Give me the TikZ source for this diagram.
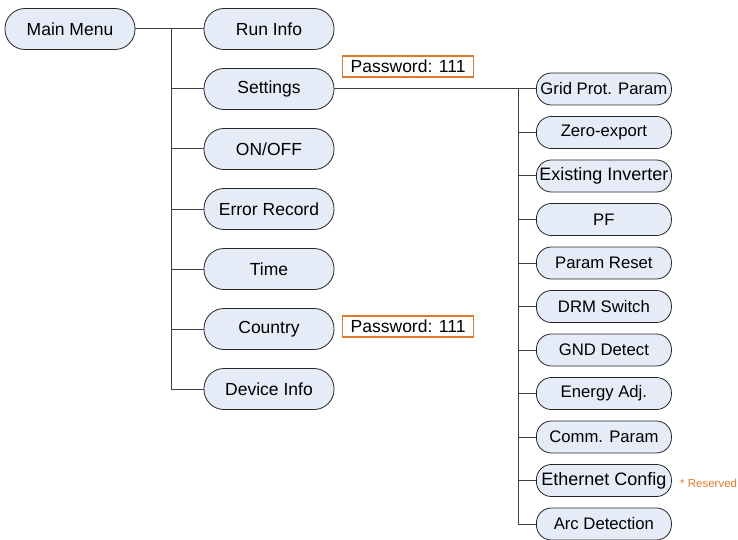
\documentclass[tikz,border=0pt]{standalone}
\usepackage{fontspec}
\setmainfont{Liberation Sans}
\definecolor{nodefill}{HTML}{E6ECF7}
\definecolor{linegray}{HTML}{404040}
\definecolor{pworange}{HTML}{E07A2A}
\tikzset{
  menubox/.style={rectangle, rounded corners=20pt, draw=black!85, fill=nodefill, line width=0.8pt,
    minimum width=130pt, minimum height=41pt, inner xsep=6pt, font=\fontsize{17.5}{19}\selectfont},
  subbox/.style={rectangle, rounded corners=15pt, draw=black!85, fill=nodefill, line width=0.8pt,
    minimum width=135pt, minimum height=32pt, inner xsep=3pt, anchor=west, font=\fontsize{16.7}{19}\selectfont},
  bigtext/.style={font=\fontsize{18}{20}\selectfont},
  pwbox/.style={draw=pworange, line width=1.2pt, minimum width=131pt, minimum height=21pt,
    inner sep=2pt, anchor=west, font=\fontsize{17.5}{19}\selectfont},
  conn/.style={draw=linegray, line width=1pt}
}
\begin{document}
\begin{tikzpicture}[x=1pt,y=-1pt]
\useasboundingbox (0,0) rectangle (738,540);
\node[menubox] (main) at (70,29) {Main Menu};
\node[menubox] (run) at (269,29) {Run Info};
\node[menubox] (set) at (269,89) {Settings};
\node[menubox] (onoff) at (269,149) {ON/OFF};
\node[menubox] (err) at (269,209) {Error Record};
\node[menubox] (time) at (269,269) {Time};
\node[menubox] (ctry) at (269,329) {Country};
\node[menubox] (dev) at (269,389) {Device Info};
\node[pwbox] (pw1) at (342,66.5) {Password: 111};
\node[pwbox] (pw2) at (342,326.5) {Password: 111};
\node[subbox] (grid) at (536,89) {Grid Prot. Param};
\node[subbox] (zero) at (536,132.5) {Zero-export};
\node[subbox, bigtext] (exist) at (536,176) {Existing Inverter};
\node[subbox] (pf) at (536,219.5) {PF};
\node[subbox] (reset) at (536,263) {Param Reset};
\node[subbox] (drm) at (536,306.5) {DRM Switch};
\node[subbox] (gnd) at (536,350) {GND Detect};
\node[subbox] (energy) at (536,393.5) {Energy Adj.};
\node[subbox] (comm) at (536,437) {Comm. Param};
\node[subbox, bigtext] (eth) at (536,480.5) {Ethernet Config};
\node[subbox] (arc) at (536,524) {Arc Detection};
\node[text=pworange, font=\fontsize{11.5}{13}\selectfont, anchor=west, inner sep=0pt] (res) at (680,483) {* Reserved};
\coordinate (t1) at (171,29);
\coordinate (t2) at (171,389);
\coordinate (s1) at (518,89);
\coordinate (s2) at (518,524);
\draw[conn] (main.east) -- (run.west);
\draw[conn] (t1) -- (t2);
\foreach \n in {set,onoff,err,time,ctry,dev}{
  \draw[conn] (t1 |- \n.west) -- (\n.west);
}
\draw[conn] (set.east) -- (grid.west);
\draw[conn] (s1) -- (s2);
\foreach \n in {zero,exist,pf,reset,drm,gnd,energy,comm,eth,arc}{
  \draw[conn] (s1 |- \n.west) -- (\n.west);
}
\end{tikzpicture}
\end{document}
